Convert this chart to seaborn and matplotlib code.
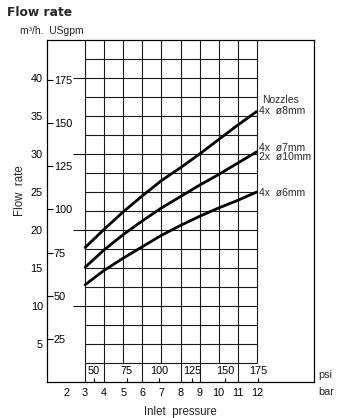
import numpy as np
import pandas as pd
import matplotlib
matplotlib.use("Agg")
import matplotlib.pyplot as plt
import seaborn as sns

# ---- data ----
pressure_bar = [3, 4, 5, 6, 7, 8, 9, 10, 11, 12]
flow_8mm = [17.7, 20.1, 22.4, 24.5, 26.5, 28.2, 30.0, 31.9, 33.8, 35.6]
flow_7mm = [15.1, 17.4, 19.4, 21.2, 22.9, 24.4, 25.9, 27.3, 28.8, 30.3]
flow_6mm = [12.8, 14.7, 16.3, 17.8, 19.3, 20.6, 21.8, 22.9, 23.9, 25.0]
series_names = ["4x  ø8mm", "4x  ø7mm\n2x  ø10mm", "4x  ø6mm"]

bar_ticks = [2, 3, 4, 5, 6, 7, 8, 9, 10, 11, 12]
psi_ticks = [50, 75, 100, 125, 150, 175]
m3h_major = [10, 20, 30, 40]
m3h_minor = [5, 15, 25, 35]
gpm_ticks = [25, 50, 75, 100, 125, 150, 175]

GPM_PER_M3H = 4.40287
PSI_PER_BAR = 14.5038

df = pd.DataFrame({
    "bar": pressure_bar * 3,
    "flow": flow_8mm + flow_7mm + flow_6mm,
    "series": [n for n in series_names for _ in pressure_bar],
})

sns.set_style("white")
plt.rcParams["font.family"] = ["Liberation Sans", "DejaVu Sans"]

fig = plt.figure(figsize=(3.5, 4.18), dpi=100)
ax = fig.add_axes([47/350, 1-382/418, 267/350, 342/418])
ax.set_xlim(1, 15)
ax.set_ylim(0, 45)

gc = "#1a1a1a"
glw = 0.8
# grid
rows = np.arange(2.5, 45, 2.5)
ax.hlines(rows, 3, 12, color=gc, lw=glw, zorder=1)
ax.hlines(m3h_major, 1 + (73-47)/19.07, 3, color=gc, lw=glw, zorder=1)
cols = np.arange(3, 13)
ax.vlines(cols, 2.5, 45, color=gc, lw=glw, zorder=1)
full_cols = [3, 4, 6, 8, 9, 11]
ax.vlines(full_cols, 0, 2.5, color=gc, lw=glw, zorder=1)

sns.lineplot(data=df, x="bar", y="flow", units="series", estimator=None,
             color="black", lw=2.0, ax=ax, zorder=3, legend=False)

for sp in ax.spines.values():
    sp.set_color("black")
    sp.set_linewidth(0.9)
    sp.set_visible(True)

fs = 7.8
# bar axis
ax.set_xticks(bar_ticks)
ax.tick_params(axis="x", direction="in", length=3, width=0.8, pad=4,
               labelsize=fs, colors="black")
# m3/h axis
ax.set_yticks(m3h_major)
ax.set_yticks(m3h_minor, labels=[str(v) for v in m3h_minor], minor=True)
ax.tick_params(axis="y", which="major", direction="in", length=4.5, width=0.8,
               pad=3, labelsize=fs, colors="black")
ax.tick_params(axis="y", which="minor", length=0, pad=3, labelsize=fs,
               colors="black")
ax.set_xlabel("Inlet  pressure", fontsize=8.3, labelpad=6)
ax.set_ylabel("Flow  rate", fontsize=8.3)
ax.yaxis.set_label_coords(-0.079, 0.561)

# USgpm secondary axis inside left spine
sec_y = ax.secondary_yaxis(0, functions=(lambda m: m * GPM_PER_M3H,
                                         lambda g: g / GPM_PER_M3H))
sec_y.set_alignment("right")
sec_y.set_yticks(gpm_ticks)
sec_y.tick_params(direction="out", length=4, width=0.8, pad=1,
                  labelsize=fs, colors="black")
for sp in sec_y.spines.values():
    sp.set_visible(False)

# psi secondary axis inside bottom spine
sec_x = ax.secondary_xaxis(0, functions=(lambda b: b * PSI_PER_BAR,
                                         lambda p: p / PSI_PER_BAR))
sec_x.set_alignment("top")
sec_x.set_xticks(psi_ticks)
sec_x.tick_params(direction="out", length=3, width=0.8, pad=1.5,
                  labelsize=fs, colors="black")
for sp in sec_x.spines.values():
    sp.set_visible(False)

ax.text(1.015, (382-375)/342, "psi", transform=ax.transAxes, fontsize=fs,
        ha="left", va="center")
ax.text(1.015, (382-392)/342, "bar", transform=ax.transAxes, fontsize=fs,
        ha="left", va="center")

# series labels at curve ends
ends = [flow_8mm[-1], flow_7mm[-1], flow_6mm[-1]]
offsets = [(1.5, 0), (1.5, -0.5), (1.5, -0.5)]
for name, yv, off in zip(series_names, ends, offsets):
    ax.annotate(name, (pressure_bar[-1], yv), xytext=off,
                textcoords="offset points", ha="left", va="center",
                fontsize=7.5, linespacing=0.95)
ax.annotate("Nozzles", (pressure_bar[-1], ends[0]), xytext=(4, 8),
            textcoords="offset points", ha="left", va="center", fontsize=7.5)

fig.text(7/350, 1-12/418, "Flow rate", fontsize=8.8, fontweight="bold",
         family="DejaVu Sans", ha="left", va="center")
fig.text(20/350, 1-31/418, "m³/h.  USgpm", fontsize=7.5, ha="left",
         va="center")

fig.savefig("out.png", dpi=100, facecolor="white")
